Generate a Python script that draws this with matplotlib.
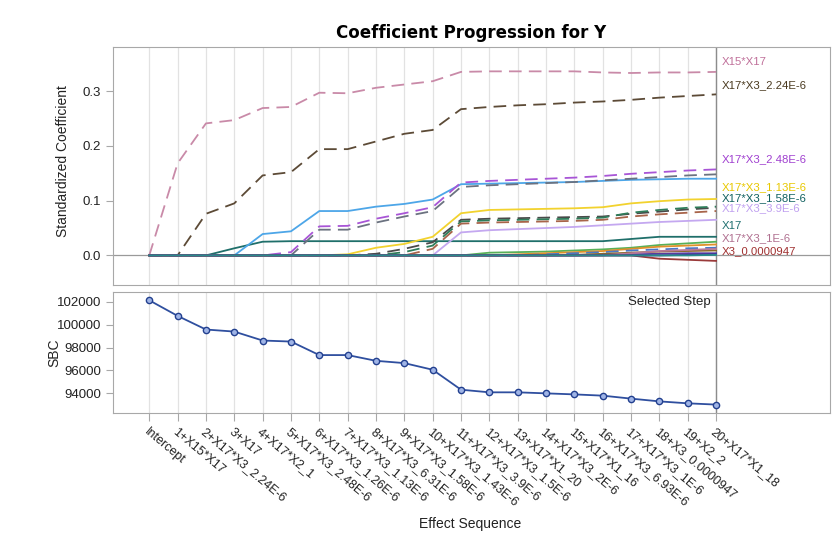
import matplotlib.pyplot as plt

# step labels along the bottom axis
step_labels = ['Intercept', '1+X15*X17', '2+X17*X3_2.24E-6', '3+X17', '4+X17*X2_1',
               '5+X17*X3_2.48E-6', '6+X17*X3_1.26E-6', '7+X17*X3_1.13E-6',
               '8+X17*X3_6.31E-6', '9+X17*X3_1.58E-6', '10+X17*X3_1.43E-6',
               '11+X17*X3_3.9E-6', '12+X17*X3_1.5E-6', '13+X17*X1_20',
               '14+X17*X3_2E-6', '15+X17*X1_16', '16+X17*X3_6.93E-6',
               '17+X17*X3_1E-6', '18+X3_0.0000947', '19+X2_2', '20+X17*X1_18']
steps = list(range(len(step_labels)))

# SBC per step
sbc = [102120, 100760, 99570, 99390, 98610, 98520, 97340, 97340, 96840, 96640,
       96060, 94320, 94090, 94090, 94000, 93910, 93800, 93540, 93300, 93130, 93020]

# standardized coefficients per effect (steps 0..20)
effects = ['X15*X17', 'X17*X3_2.24E-6', 'X17', 'X17*X2_1', 'X17*X3_2.48E-6',
           'X17*X3_1.26E-6', 'X17*X3_1.13E-6', 'X17*X3_6.31E-6', 'X17*X3_1.58E-6',
           'X17*X3_1.43E-6', 'X17*X3_3.9E-6', 'X17*X3_1.5E-6', 'X17*X1_20',
           'X17*X3_2E-6', 'X17*X1_16', 'X17*X3_6.93E-6', 'X17*X3_1E-6',
           'X3_0.0000947', 'X2_2', 'X17*X1_18']
coefs = [
    [0, .168, .241, .247, .269, .271, .297, .296, .306, .312, .318, .335, .336, .336, .336, .336, .334, .333, .334, .334, .335],
    [0, 0, .076, .095, .146, .152, .194, .194, .208, .222, .229, .267, .271, .274, .276, .279, .281, .284, .288, .291, .294],
    [0, 0, 0, .013, .025, .026, .026, .026, .026, .026, .026, .026, .026, .026, .026, .026, .026, .030, .034, .034, .034],
    [0, 0, 0, 0, .039, .044, .081, .081, .089, .094, .102, .130, .131, .132, .133, .134, .136, .138, .139, .140, .140],
    [0, 0, 0, 0, 0, .006, .053, .054, .067, .077, .088, .133, .136, .138, .140, .142, .145, .149, .152, .155, .157],
    [0, 0, 0, 0, 0, 0, .047, .047, .060, .071, .081, .125, .128, .130, .132, .134, .137, .140, .143, .146, .148],
    [0, 0, 0, 0, 0, 0, 0, .002, .014, .021, .034, .077, .083, .084, .085, .086, .088, .095, .099, .102, .103],
    [0, 0, 0, 0, 0, 0, 0, 0, .003, .012, .024, .065, .067, .068, .069, .070, .071, .076, .080, .084, .087],
    [0, 0, 0, 0, 0, 0, 0, 0, 0, .006, .018, .062, .064, .065, .066, .067, .069, .078, .083, .087, .089],
    [0, 0, 0, 0, 0, 0, 0, 0, 0, 0, .012, .058, .060, .061, .062, .063, .065, .071, .075, .078, .081],
    [0, 0, 0, 0, 0, 0, 0, 0, 0, 0, 0, .042, .046, .048, .050, .052, .055, .058, .061, .063, .065],
    [0, 0, 0, 0, 0, 0, 0, 0, 0, 0, 0, 0, .005, .006, .007, .009, .011, .014, .019, .022, .025],
    [0, 0, 0, 0, 0, 0, 0, 0, 0, 0, 0, 0, 0, .002, .004, .006, .008, .012, .016, .018, .020],
    [0, 0, 0, 0, 0, 0, 0, 0, 0, 0, 0, 0, 0, 0, .002, .004, .006, .009, .011, .013, .014],
    [0, 0, 0, 0, 0, 0, 0, 0, 0, 0, 0, 0, 0, 0, 0, .001, .003, .005, .007, .008, .009],
    [0, 0, 0, 0, 0, 0, 0, 0, 0, 0, 0, 0, 0, 0, 0, 0, .001, .002, .003, .004, .004],
    [0, 0, 0, 0, 0, 0, 0, 0, 0, 0, 0, 0, 0, 0, 0, 0, 0, .004, .008, .010, .012],
    [0, 0, 0, 0, 0, 0, 0, 0, 0, 0, 0, 0, 0, 0, 0, 0, 0, 0, -.006, -.008, -.010],
    [0, 0, 0, 0, 0, 0, 0, 0, 0, 0, 0, 0, 0, 0, 0, 0, 0, 0, 0, .001, .002],
    [0, 0, 0, 0, 0, 0, 0, 0, 0, 0, 0, 0, 0, 0, 0, 0, 0, 0, 0, 0, .001],
]

# styles
colors = ['#c98aa8', '#5c4a36', '#1f6f6a', '#4da6e8', '#a855d6', '#6b7280', '#f2d22e',
          '#4a4a4a', '#2f7d5a', '#a8644a', '#c4a8f0', '#58b058', '#e0902a', '#4a78c8',
          '#8a6a2a', '#5a3aa0', '#b87898', '#9a3a3a', '#333399', '#2a8a8a']
dashed = [True, True, False, False, True, True, False, True, True, True,
          False, False, False, True, False, False, False, False, False, False]

# labelled effects on the right and their label heights
label_names = ['X15*X17', 'X17*X3_2.24E-6', 'X17*X3_2.48E-6', 'X17*X3_1.13E-6',
               'X17*X3_1.58E-6', 'X17*X3_3.9E-6', 'X17', 'X17*X3_1E-6', 'X3_0.0000947']
label_colors = ['#c0709a', '#4a3a20', '#a040d0', '#e8c800', '#106060', '#c0a0f0',
                '#207070', '#b07090', '#a03030']
label_y = [0.353, 0.311, 0.176, 0.125, 0.105, 0.086, 0.053, 0.032, 0.008]

plt.rcParams['font.family'] = ['Liberation Sans', 'DejaVu Sans']

W, H = 835, 546
fig = plt.figure(figsize=(W / 100, H / 100), dpi=100)
left, right = 112.7, 830
ax1 = fig.add_axes([left / W, 1 - 285 / H, (right - left) / W, (285 - 46.7) / H])
ax2 = fig.add_axes([left / W, 1 - 413.3 / H, (right - left) / W, (413.3 - 291.7) / H])

for ax in (ax1, ax2):
    ax.set_xlim(-1.29, 24.02)
    ax.set_xticks(steps)
    ax.grid(axis='x', color='#e2e2e2', lw=0.9)
    ax.set_axisbelow(True)
    ax.axvline(20, color='#8c8c8c', lw=1)
    for s in ax.spines.values():
        s.set_color('#a8a8a8')
    ax.tick_params(axis='y', colors='#a8a8a8', labelcolor='#222222', labelsize=9.5, length=5)

# top panel: coefficient progression
for vals, c, d in zip(coefs, colors, dashed):
    if d:
        ax1.plot(steps, vals, color=c, lw=1.3, ls=(0, (7, 4)))
    else:
        ax1.plot(steps, vals, color=c, lw=1.3)
ax1.axhline(0, color='#9a9a9a', lw=0.9, zorder=0.5)
ax1.set_ylim(-0.054, 0.381)
ax1.set_yticks([0.0, 0.1, 0.2, 0.3])
ax1.set_yticklabels(['0.0', '0.1', '0.2', '0.3'])
ax1.tick_params(axis='x', length=0, labelbottom=False)
ax1.set_ylabel('Standardized Coefficient', fontsize=10, color='#222222')
ax1.yaxis.set_label_coords((70 - left) / (right - left), 0.52)
for name, c, y in zip(label_names, label_colors, label_y):
    ax1.text(20.2, y, name, color=c, fontsize=8.2, va='center', ha='left')

ax1.set_title('Coefficient Progression for Y', family='DejaVu Sans', fontweight='bold',
              fontsize=12, pad=6)

# bottom panel: SBC
ax2.plot(steps, sbc, color='#2f4f9f', lw=1.3, marker='o', ms=4.5,
         mfc='#9fb4e6', mec='#23408f', mew=1)
ax2.set_ylim(92260, 102870)
ax2.set_yticks([94000, 96000, 98000, 100000, 102000])
ax2.set_ylabel('SBC', fontsize=10, color='#222222')
ax2.yaxis.set_label_coords((61 - left) / (right - left), 0.5)
ax2.text(19.8, 102000, 'Selected Step', fontsize=9.5, ha='right', va='center', color='#222222')
ax2.tick_params(axis='x', colors='#a8a8a8', labelcolor='#222222', length=6, pad=3)
ax2.set_xticklabels(step_labels, rotation=-40, ha='left', va='top',
                    rotation_mode='anchor', fontsize=9)
ax2.set_xlabel('Effect Sequence', fontsize=10, color='#222222')
ax2.xaxis.set_label_coords((470 - left) / (right - left), -0.85)

fig.savefig('out.png', dpi=100)
